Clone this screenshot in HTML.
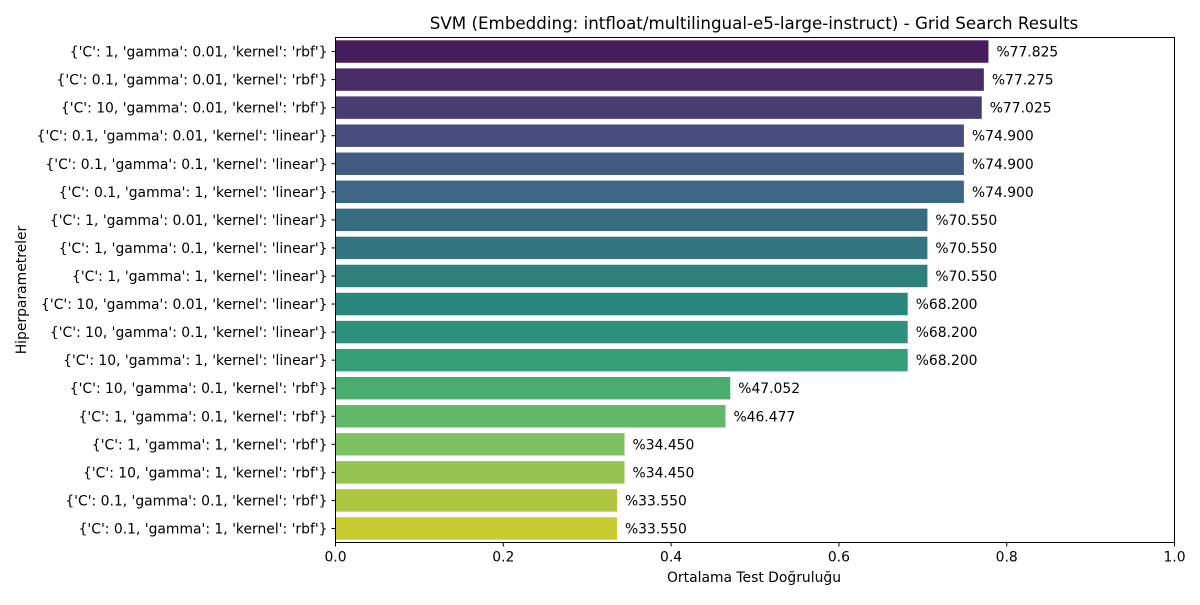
<!DOCTYPE html>
<html><head><meta charset="utf-8"><style>
body{margin:0;background:#fff}
svg{font-family:"DejaVu Sans","Liberation Sans",sans-serif}
</style></head><body>
<svg id="chart" width="1200" height="600" xmlns="http://www.w3.org/2000/svg">
<text x="754" y="29" font-size="16.7" text-anchor="middle">SVM (Embedding: intfloat/multilingual-e5-large-instruct) - Grid Search Results</text>
<text x="754" y="582" font-size="13.9" text-anchor="middle">Ortalama Test Doğruluğu</text>
<text x="26" y="290" font-size="13.9" text-anchor="middle" transform="rotate(-90 26 290)">Hiperparametreler</text>
<g id="bars"></g>
<rect x="335.5" y="37.5" width="839" height="505" fill="none" stroke="#000" stroke-width="1"/>
</svg>
<script>
const categories=["{'C': 1, 'gamma': 0.01, 'kernel': 'rbf'}","{'C': 0.1, 'gamma': 0.01, 'kernel': 'rbf'}","{'C': 10, 'gamma': 0.01, 'kernel': 'rbf'}","{'C': 0.1, 'gamma': 0.01, 'kernel': 'linear'}","{'C': 0.1, 'gamma': 0.1, 'kernel': 'linear'}","{'C': 0.1, 'gamma': 1, 'kernel': 'linear'}","{'C': 1, 'gamma': 0.01, 'kernel': 'linear'}","{'C': 1, 'gamma': 0.1, 'kernel': 'linear'}","{'C': 1, 'gamma': 1, 'kernel': 'linear'}","{'C': 10, 'gamma': 0.01, 'kernel': 'linear'}","{'C': 10, 'gamma': 0.1, 'kernel': 'linear'}","{'C': 10, 'gamma': 1, 'kernel': 'linear'}","{'C': 10, 'gamma': 0.1, 'kernel': 'rbf'}","{'C': 1, 'gamma': 0.1, 'kernel': 'rbf'}","{'C': 1, 'gamma': 1, 'kernel': 'rbf'}","{'C': 10, 'gamma': 1, 'kernel': 'rbf'}","{'C': 0.1, 'gamma': 0.1, 'kernel': 'rbf'}","{'C': 0.1, 'gamma': 1, 'kernel': 'rbf'}"];
const values=[0.77825,0.77275,0.77025,0.749,0.749,0.749,0.7055,0.7055,0.7055,0.682,0.682,0.682,0.47052,0.46477,0.3445,0.3445,0.3355,0.3355];
const xTicks=[0,0.2,0.4,0.6,0.8,1.0];
const xTickLabels=["0.0","0.2","0.4","0.6","0.8","1.0"];
const colors=["#461c5a","#472c66","#483d73","#484c7e","#425b82","#3d6785","#386d81","#357580","#2f7f7f","#2a877e","#2d917c","#359e79","#4aac6f","#63b76a","#7dc163","#95c452","#aec63f","#c8cc30"];
const NS="http://www.w3.org/2000/svg";
const x0=335.5,x1=1174.5,y0=37.5,y1=542.5;
const xs=v=>x0+v*(x1-x0);
const band=(y1-y0)/categories.length;
const yc=i=>y0+band*(i+0.5);
const svg=document.getElementById('chart'),g=document.getElementById('bars');
function mk(t,a){const e=document.createElementNS(NS,t);for(const k in a)e.setAttribute(k,a[k]);return e;}
categories.forEach((c,i)=>{
 const h=band*0.8;
 const r=mk('rect',{x:x0,y:yc(i)-h/2,width:xs(values[i])-x0,height:h,fill:colors[i]});
 
 
 g.appendChild(r);
 const vl=mk('text',{x:xs(values[i])+8,y:yc(i)+5,'font-size':13.9});
 vl.textContent='%'+(values[i]*100).toFixed(3);
 
 
 g.appendChild(vl);
 const tk=mk('line',{x1:x0-4,x2:x0,y1:yc(i),y2:yc(i),stroke:'#000'});
 
 
 svg.appendChild(tk);
 const cl=mk('text',{x:x0-8,y:yc(i)+5,'font-size':13.9,'text-anchor':'end'});
 cl.textContent=c;
 
 
 svg.appendChild(cl);
});
xTicks.forEach((t,i)=>{
 const tk=mk('line',{x1:xs(t),x2:xs(t),y1:y1,y2:y1+4,stroke:'#000'});
 
 
 svg.appendChild(tk);
 const tl=mk('text',{x:xs(t),y:y1+19,'font-size':13.9,'text-anchor':'middle'});
 tl.textContent=xTickLabels[i];
 
 
 svg.appendChild(tl);
});
</script>
</body></html>
